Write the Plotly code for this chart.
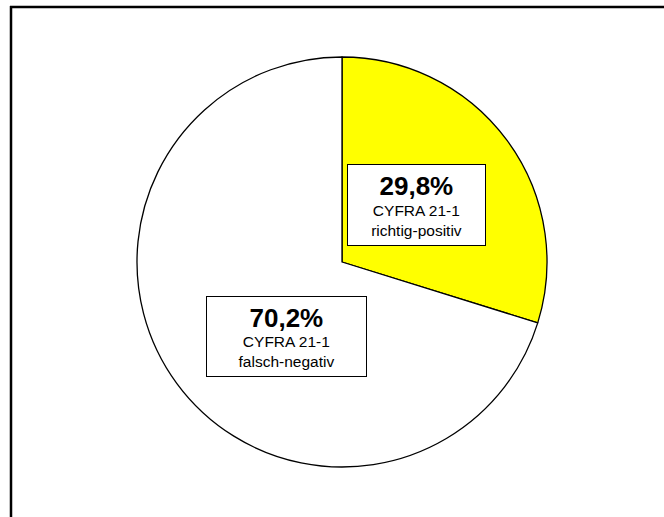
import plotly.graph_objects as go

W, H = 664, 517

# Share of CYFRA 21-1 results
labels = ["CYFRA 21-1 richtig-positiv", "CYFRA 21-1 falsch-negativ"]
values = [29.8, 70.2]
pct_text = ["29,8%", "70,2%"]
sub_text = [["CYFRA 21-1", "richtig-positiv"], ["CYFRA 21-1", "falsch-negativ"]]
colors = ["#ffff00", "#ffffff"]


def px_x(x):
    return x / W


def px_y(y):
    return 1 - y / H


fig = go.Figure()
fig.add_trace(go.Pie(
    labels=labels,
    values=values,
    sort=False,
    direction="clockwise",
    rotation=0,
    textinfo="none",
    hoverinfo="label+percent",
    marker=dict(colors=colors, line=dict(color="#000000", width=1.3)),
    domain=dict(x=[px_x(137), px_x(547)], y=[px_y(467), px_y(57)]),
    showlegend=False,
))

# label boxes: centre (px), width, height
boxes = [(416, 205, 137, 80), (286.5, 336.5, 159, 79)]
for (cx, cy, bw, bh), pct, sub in zip(boxes, pct_text, sub_text):
    txt = (f"<span style='font-size:26px'><b>{pct}</b></span><br>"
           f"<span style='font-size:15.5px'>{sub[0]}<br>{sub[1]}</span>")
    fig.add_annotation(
        x=px_x(cx), y=px_y(cy), xref="paper", yref="paper",
        text=txt, showarrow=False,
        width=bw, height=bh, align="center", valign="middle",
        bgcolor="#ffffff", bordercolor="#000000", borderwidth=1, borderpad=0,
        font=dict(family="Liberation Sans, Arial", size=15.5, color="#000000"),
        xanchor="center", yanchor="middle",
    )

# outer frame: only its top and left edges lie on the page
fig.add_shape(type="line", xref="paper", yref="paper",
              x0=px_x(10), x1=px_x(W + 20), y0=px_y(7), y1=px_y(7),
              line=dict(color="#000000", width=2.5))
fig.add_shape(type="line", xref="paper", yref="paper",
              x0=px_x(11), x1=px_x(11), y0=px_y(H + 20), y1=px_y(6),
              line=dict(color="#000000", width=2.5))

fig.update_layout(
    width=W, height=H,
    margin=dict(l=0, r=0, t=0, b=0),
    paper_bgcolor="#ffffff", plot_bgcolor="#ffffff",
)

fig.write_html("out.html", config={"displayModeBar": False})
